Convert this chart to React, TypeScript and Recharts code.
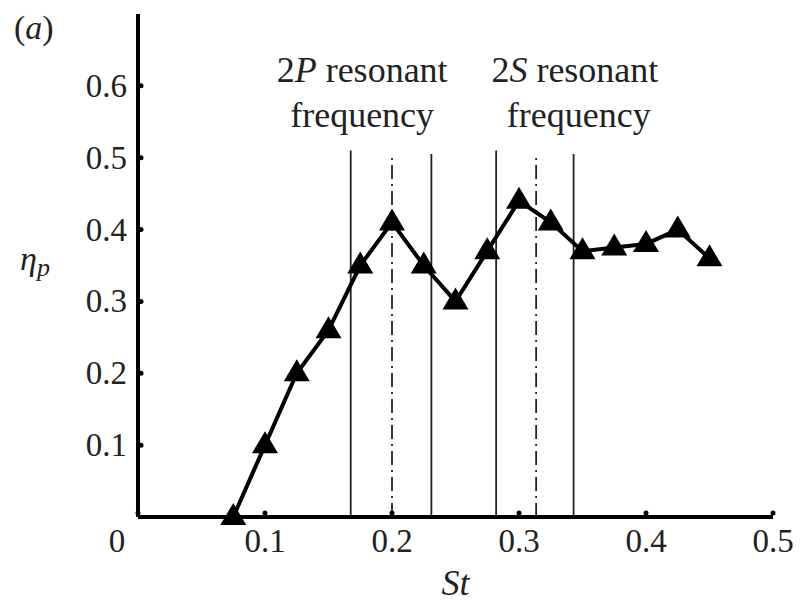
import { LineChart, Line, XAxis, YAxis, ReferenceLine, ReferenceDot } from 'recharts';

// St values and efficiency
const st = [0.075, 0.1, 0.125, 0.15, 0.175, 0.2, 0.225, 0.25, 0.275, 0.3, 0.325, 0.35, 0.375, 0.4, 0.425, 0.45];
const eta = [0.0, 0.1, 0.2, 0.26, 0.35, 0.41, 0.35, 0.3, 0.37, 0.44, 0.41, 0.37, 0.375, 0.38, 0.4, 0.36];

const xTicks = [0, 0.1, 0.2, 0.3, 0.4, 0.5];
const yTicks = [0.1, 0.2, 0.3, 0.4, 0.5, 0.6];

// resonance bands: [lower, centre, upper]
const band2P = [0.1675, 0.2, 0.231];
const band2S = [0.282, 0.3135, 0.343];
const bandTop = 0.51;

const data = st.map((s, i) => ({ st: s, eta: eta[i] }));

const FONT = "'Liberation Serif', 'DejaVu Serif', serif";
const txt = { fontFamily: FONT, fill: '#222' };

function Triangle(props: any) {
    const { cx, cy } = props;
    if (cx == null || cy == null) return null;
    return <polygon points={`${cx},${cy - 14} ${cx - 13},${cy + 8} ${cx + 13},${cy + 8}`} fill="#000" />;
}

function XTick(props: any) {
    const { x, y, payload } = props;
    const v = payload.value;
    return (
        <g>
            <circle cx={x} cy={y - 12} r={2.5} fill="#000" />
            <text x={v === 0 ? x - 21 : x} y={y + 27} textAnchor="middle" style={{ ...txt, fontSize: 33 }}>
                {v}
            </text>
        </g>
    );
}

function YTick(props: any) {
    const { x, y, payload } = props;
    return (
        <g>
            <circle cx={x + 11} cy={y} r={2.5} fill="#000" />
            <text x={x - 3} y={y + 11} textAnchor="end" style={{ ...txt, fontSize: 33 }}>
                {payload.value}
            </text>
        </g>
    );
}

function Annot(text: any) {
    return (props: any) => (
        <text x={props.cx} y={props.cy} textAnchor="middle" style={{ ...txt, fontSize: 36 }}>
            {text}
        </text>
    );
}

export default function App() {
    return (
        <div style={{ position: 'absolute', left: 0, top: 0, width: 800, height: 612, background: '#fff' }}>
            <div style={{ position: 'absolute', left: 14, top: 9, fontFamily: FONT, fontSize: 34, color: '#222' }}>
                (<i>a</i>)
            </div>
            <LineChart width={800} height={612} data={data} margin={{ top: 14, right: 27, bottom: 0, left: 0 }}>
                <XAxis
                    type="number"
                    dataKey="st"
                    domain={[0, 0.5]}
                    ticks={xTicks}
                    tickLine={false}
                    axisLine={{ stroke: '#000', strokeWidth: 4 }}
                    tick={<XTick />}
                    height={95}
                    label={{
                        content: (p: any) => (
                            <text x={p.viewBox.x + p.viewBox.width / 2} y={595} textAnchor="middle" style={{ ...txt, fontSize: 36, fontStyle: 'italic' }}>
                                St
                            </text>
                        ),
                    }}
                />
                <YAxis
                    type="number"
                    domain={[0, 0.7]}
                    ticks={yTicks}
                    tickLine={false}
                    axisLine={{ stroke: '#000', strokeWidth: 4 }}
                    tick={<YTick />}
                    width={138}
                    label={{
                        content: (p: any) => (
                            <text x={20} y={p.viewBox.y + p.viewBox.height / 2 + 4} style={{ ...txt, fontSize: 34, fontStyle: 'italic' }}>
                                η<tspan style={{ fontSize: 26 }} dy={6}>p</tspan>
                            </text>
                        ),
                    }}
                />
                {[band2P, band2S].map((b, i) => (
                    <g key={i}>
                        <ReferenceLine segment={[{ x: b[0], y: 0 }, { x: b[0], y: bandTop }]} stroke="#222" strokeWidth={1.8} />
                        <ReferenceLine segment={[{ x: b[1], y: 0 }, { x: b[1], y: bandTop - 0.01 }]} stroke="#222" strokeWidth={1.8} strokeDasharray="14 5 2 5" />
                        <ReferenceLine segment={[{ x: b[2], y: 0 }, { x: b[2], y: bandTop - 0.005 }]} stroke="#222" strokeWidth={1.8} />
                    </g>
                ))}
                <ReferenceDot x={0.1765} y={0.606} r={0} shape={Annot(<><tspan>2</tspan><tspan style={{ fontStyle: 'italic' }}>P</tspan><tspan> resonant</tspan></>)} />
                <ReferenceDot x={0.1765} y={0.543} r={0} shape={Annot('frequency')} />
                <ReferenceDot x={0.344} y={0.606} r={0} shape={Annot(<><tspan>2</tspan><tspan style={{ fontStyle: 'italic' }}>S</tspan><tspan> resonant</tspan></>)} />
                <ReferenceDot x={0.347} y={0.543} r={0} shape={Annot('frequency')} />
                <Line
                    type="linear"
                    dataKey="eta"
                    stroke="#000"
                    strokeWidth={4}
                    dot={<Triangle />}
                    activeDot={false}
                    isAnimationActive={false}
                />
            </LineChart>
        </div>
    );
}
